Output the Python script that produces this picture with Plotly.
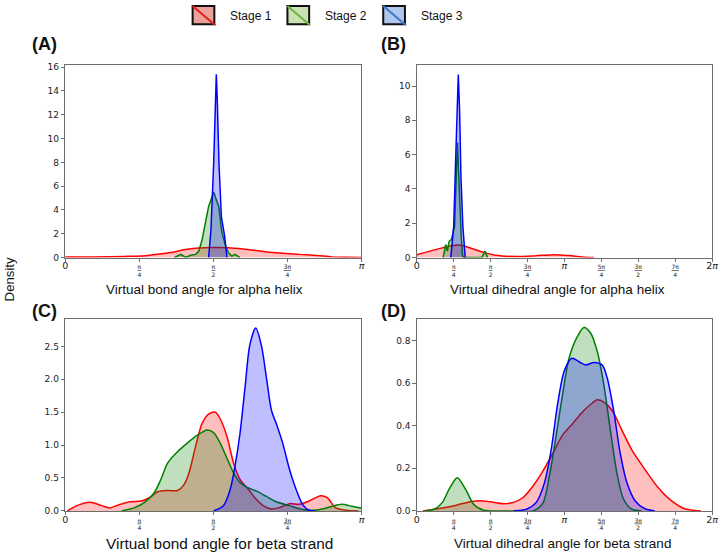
import numpy as np
import plotly.graph_objects as go

PI = np.pi
W, H = 725, 557

# ---------------- data (x in multiples of pi, y = density) ----------------
# Panel A: virtual bond angle, alpha helix
a_red_x = [0, .1, .2, .257, .3, .357, .4, .45, .5, .55, .6, .657, .7, .79, .85, .9, .95, 1.0]
a_red_y = [.04, .06, .1, .14, .25, .42, .65, .8, .85, .83, .72, .55, .42, .27, .18, .06, .02, .01]
a_green_x = [.368, .39, .407, .423, .44, .451, .462, .473, .484, .501, .518, .529, .54, .551, .562, .573, .59]
a_green_y = [0, .27, .02, .19, .27, .55, 1.5, 2.9, 4.3, 5.5, 4.3, 2.1, 1.1, .41, .13, .27, 0]
a_blue_x = [.484, .492, .501, .507, .51, .513, .519, .527, .538, .546]
a_blue_y = [0, 2.35, 7.9, 13.4, 15.4, 13.4, 7.9, 3.45, 1.8, 0]

# Panel B: virtual dihedral angle, alpha helix
b_red_x = [0, .134, .245, .30, .357, .446, .535, .669, .8, .936, 1.03, 1.12, 1.2]
b_red_y = [.17, .48, .71, .72, .57, .32, .13, .06, .1, .17, .12, .04, 0]
b_green_x = [.178, .196, .207, .219, .234, .245, .256, .263, .27, .276, .283, .292, .301, .31, .32, .44, .462, .48]
b_green_y = [0, .76, .38, .95, 1.05, 1.44, 1.82, 3.7, 5.65, 6.7, 5.07, 2.78, 1.24, .1, 0, 0, .38, 0]
b_blue_x = [.23, .25, .263, .272, .281, .29, .299, .312, .319, .328]
b_blue_y = [0, 1.82, 5.65, 8.5, 10.67, 8.5, 4.7, 1.82, 1.05, 0]

# Panel C: virtual bond angle, beta strand
c_red_x = [.007, .04, .084, .123, .151, .179, .218, .257, .284, .312, .346, .379, .401, .418, .44, .462,
           .484, .507, .523, .546, .568, .59, .618, .64, .668, .696, .723, .757, .79, .823, .862, .884,
           .912, .946, .99]
c_red_y = [0, .08, .13, .08, .045, .09, .14, .15, .2, .29, .31, .31, .4, .58, .98, 1.33,
           1.47, 1.5, 1.4, 1.13, .73, .48, .33, .2, .08, .03, .05, .11, .1, .15, .23, .2,
           .05, .01, 0]
c_green_x = [.19, .234, .268, .301, .323, .346, .379, .412, .446, .479, .501, .523, .546, .568, .59,
             .612, .646, .679, .712, .757, .801, .834, .868, .901, .934, .968, 1.0]
c_green_y = [0, .05, .13, .28, .48, .73, .9, 1.03, 1.15, 1.23, 1.19, 1.03, .8, .58, .43,
             .36, .3, .22, .14, .08, .02, .01, .03, .07, .1, .07, .04]
c_blue_x = [.501, .534, .557, .573, .59, .607, .623, .643, .662, .679, .696, .712, .734, .757, .779,
            .801, .823, .845]
c_blue_y = [0, .08, .33, .68, 1.18, 1.88, 2.52, 2.78, 2.52, 2.03, 1.53, 1.33, 1.03, .63, .33,
            .1, .01, 0]

# Panel D: virtual dihedral angle, beta strand
d_red_x = [.04, .163, .274, .363, .43, .497, .587, .654, .72, .787, .854, .921, .988, 1.055, 1.122,
           1.189, 1.222, 1.266, 1.322, 1.389, 1.456, 1.545, 1.634, 1.724, 1.813, 1.925]
d_red_y = [0, .012, .028, .043, .048, .043, .034, .04, .063, .117, .187, .27, .357, .41, .465,
           .507, .522, .511, .473, .38, .287, .195, .11, .048, .01, 0]
d_green_x = [.051, .118, .174, .219, .274, .33, .386, .453, .631, .787, .854, .898, .943, .988, 1.032,
             1.088, 1.132, 1.177, 1.222, 1.266, 1.311, 1.355, 1.4, 1.456, 1.523]
d_green_y = [0, .008, .04, .102, .156, .102, .03, .003, 0, 0, .037, .164, .35, .55, .72,
             .82, .862, .836, .75, .596, .38, .179, .056, .008, 0]
d_blue_x = [.654, .742, .809, .865, .91, .954, .999, 1.05, 1.099, 1.144, 1.199, 1.255, 1.289, 1.333,
            1.378, 1.423, 1.478, 1.545, 1.612]
d_blue_y = [0, .008, .04, .133, .287, .503, .658, .717, .701, .686, .697, .686, .627, .473,
            .27, .133, .048, .01, 0]

stage_names = ["Stage 1", "Stage 2", "Stage 3"]
panel_labels = ["(A)", "(B)", "(C)", "(D)"]
axis_titles = ["Virtual bond angle for alpha helix", "Virtual dihedral angle for alpha helix",
               "Virtual bond angle for beta strand", "Virtual dihedral angle for beta strand"]
y_label = "Density"

# ---------------- styles ----------------
LINE = ["red", "green", "blue"]
FILL = ["rgba(255,0,0,0.25)", "rgba(0,128,0,0.25)", "rgba(0,0,255,0.25)"]
AX_COLOR = "#6e6e6e"
TICK_FONT = "DejaVu Sans"
TXT_FONT = "Liberation Sans, Arial, sans-serif"

fig = go.Figure()

panels = [
    ("x", "y", [(a_red_x, a_red_y, "spline"), (a_green_x, a_green_y, "linear"), (a_blue_x, a_blue_y, "linear")]),
    ("x2", "y2", [(b_red_x, b_red_y, "spline"), (b_green_x, b_green_y, "linear"), (b_blue_x, b_blue_y, "linear")]),
    ("x3", "y3", [(c_red_x, c_red_y, "spline"), (c_green_x, c_green_y, "spline"), (c_blue_x, c_blue_y, "spline")]),
    ("x4", "y4", [(d_red_x, d_red_y, "spline"), (d_green_x, d_green_y, "spline"), (d_blue_x, d_blue_y, "spline")]),
]
for xa, ya, series in panels:
    for i, (xs, ys, shp) in enumerate(series):
        fig.add_trace(go.Scatter(
            x=np.array(xs) * PI, y=ys, xaxis=xa, yaxis=ya, mode="lines",
            line=dict(color=LINE[i], width=1.5, shape=shp, smoothing=0.8),
            fill="tozeroy", fillcolor=FILL[i], showlegend=False, hoverinfo="skip"))


def big(s):
    return "<span style='font-size:9.5px'>" + s + "</span>"


def frac(n, d):
    return "<u>" + n + "π</u><br>" + d


ticks_pi = [0, PI / 4, PI / 2, 3 * PI / 4, PI]
text_pi = [big("0"), frac("", "4"), frac("", "2"), frac("3", "4"), big("<i>π</i>")]
ticks_2pi = [k * PI / 4 for k in range(9)]
text_2pi = [big("0"), frac("", "4"), frac("", "2"), frac("3", "4"), big("<i>π</i>"),
            frac("5", "4"), frac("3", "2"), frac("7", "4"), big("2<i>π</i>")]

common = dict(showline=True, mirror=True, linecolor=AX_COLOR, linewidth=1, ticks="outside",
              ticklen=3.5, tickwidth=0.8, tickcolor=AX_COLOR, showgrid=False, zeroline=False)

xl = [63 / W, 363 / W]
xr = [419 / W, 718 / W]
yt = [1 - 258.3 / H, 1 - 63 / H]
yb = [1 - 515.3 / H, 1 - 321 / H]

xtick_font = dict(family=TICK_FONT, size=6, color="#222")
ytick_font = dict(family=TICK_FONT, size=9, color="#222")

fig.update_layout(
    width=W, height=H, margin=dict(l=0, r=0, t=0, b=0),
    paper_bgcolor="white", plot_bgcolor="white", showlegend=False,
    xaxis=dict(domain=xl, anchor="y", range=[0, PI], tickvals=ticks_pi, ticktext=text_pi,
               tickfont=xtick_font, **common),
    yaxis=dict(domain=yt, anchor="x", range=[0, 16.17], dtick=2, tickfont=ytick_font, **common),
    xaxis2=dict(domain=xr, anchor="y2", range=[0, 2 * PI], tickvals=ticks_2pi, ticktext=text_2pi,
                tickfont=xtick_font, **common),
    yaxis2=dict(domain=yt, anchor="x2", range=[0, 11.22], dtick=2, tickfont=ytick_font, **common),
    xaxis3=dict(domain=xl, anchor="y3", range=[0, PI], tickvals=ticks_pi, ticktext=text_pi,
                tickfont=xtick_font, **common),
    yaxis3=dict(domain=yb, anchor="x3", range=[0, 2.91], dtick=0.5, tickformat=".1f",
                tickfont=ytick_font, **common),
    xaxis4=dict(domain=xr, anchor="y4", range=[0, 2 * PI], tickvals=ticks_2pi, ticktext=text_2pi,
                tickfont=xtick_font, **common),
    yaxis4=dict(domain=yb, anchor="x4", range=[0, 0.90], dtick=0.2, tickformat=".1f",
                tickfont=ytick_font, **common),
)


def px(x):
    return x / W


def py(y):
    return 1 - y / H


ann = []
# axis titles
title_pos = [(204, 291, 13.5), (561.5, 291, 13.5), (219, 548.5, 15.4), (567, 548.5, 13.5)]
for t, (cx, cy, fs) in zip(axis_titles, title_pos):
    ann.append(dict(text=t, x=px(cx), y=py(cy), xref="paper", yref="paper", showarrow=False,
                    xanchor="center", yanchor="middle", font=dict(family=TXT_FONT, size=fs, color="#111")))
# panel labels
lab_pos = [(27, 42), (381, 42), (27, 312), (381, 312)]
for t, (lx, ly) in zip(panel_labels, lab_pos):
    ann.append(dict(text="<b>" + t + "</b>", x=px(lx), y=py(ly), xref="paper", yref="paper",
                    showarrow=False, xanchor="left", yanchor="middle",
                    font=dict(family=TXT_FONT, size=18, color="#111")))
# y label
ann.append(dict(text=y_label, x=px(7.5), y=py(280), xref="paper", yref="paper", showarrow=False,
                textangle=-90, xanchor="center", yanchor="middle",
                font=dict(family=TXT_FONT, size=13.2, color="#111")))

# legend (drawn manually)
shapes = []
leg_fill = ["rgb(236,160,152)", "rgb(200,226,178)", "rgb(176,198,236)"]
leg_line = ["rgb(226,30,30)", "rgb(110,180,60)", "rgb(60,120,210)"]
leg_box_x = [192, 288, 385]
leg_text_x = [228, 324, 421]
for i in range(3):
    x0, x1, y0, y1 = leg_box_x[i], leg_box_x[i] + 22, 3, 21.5
    shapes.append(dict(type="rect", xref="paper", yref="paper", x0=px(x0), x1=px(x1), y0=py(y1), y1=py(y0),
                       fillcolor=leg_fill[i], line=dict(color="#111", width=2)))
    shapes.append(dict(type="line", xref="paper", yref="paper", x0=px(x0), x1=px(x1 + 1), y0=py(y0), y1=py(y1 + 1),
                       line=dict(color=leg_line[i], width=2)))
    ann.append(dict(text=stage_names[i], x=px(leg_text_x[i]), y=py(13), xref="paper", yref="paper",
                    showarrow=False, xanchor="left", yanchor="middle",
                    font=dict(family=TXT_FONT, size=12, color="#111")))

fig.update_layout(annotations=ann, shapes=shapes)
fig.write_html("out.html", config={"displayModeBar": False},
               post_script="document.body.style.margin='0';document.body.style.overflow='hidden';")
